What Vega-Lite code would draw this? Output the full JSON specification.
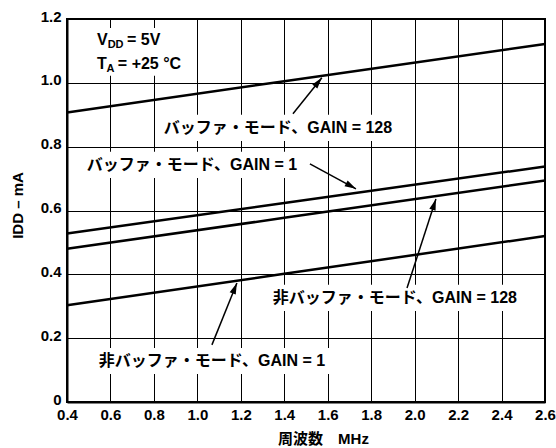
{
  "$schema": "https://vega.github.io/schema/vega-lite/v6.json",
  "width": 478,
  "height": 383,
  "autosize": {"type": "none"},
  "padding": {"left": 67, "top": 19, "right": 11, "bottom": 46},
  "background": "white",
  "config": {
    "view": {"stroke": "black", "strokeWidth": 2},
    "axis": {
      "gridColor": "black", "gridOpacity": 1, "gridWidth": 1,
      "domainColor": "black", "domainWidth": 2,
      "ticks": false,
      "labelColor": "black", "labelFont": "Liberation Sans", "labelFontSize": 15, "labelFontWeight": "bold",
      "titleColor": "black", "titleFont": "Liberation Sans, Noto Sans CJK JP", "titleFontSize": 15, "titleFontWeight": "bold",
      "labelFlush": false, "labelOverlap": false
    }
  },
  "datasets": {
    "lines": [
      {"series": "buf128", "f": 0.4, "i": 0.907}, {"series": "buf128", "f": 1.4, "i": 1.005}, {"series": "buf128", "f": 2.6, "i": 1.122},
      {"series": "buf1", "f": 0.4, "i": 0.528}, {"series": "buf1", "f": 1.4, "i": 0.6235}, {"series": "buf1", "f": 2.6, "i": 0.738},
      {"series": "nb128", "f": 0.4, "i": 0.48}, {"series": "nb128", "f": 1.4, "i": 0.577}, {"series": "nb128", "f": 2.6, "i": 0.694},
      {"series": "nb1", "f": 0.4, "i": 0.303}, {"series": "nb1", "f": 1.4, "i": 0.4016}, {"series": "nb1", "f": 2.6, "i": 0.52}
    ],
    "boxes": [
      {"f": 0.825, "f2": 1.914, "i": 0.818, "i2": 0.9},
      {"f": 0.478, "f2": 1.477, "i": 0.702, "i2": 0.784},
      {"f": 1.33, "f2": 2.489, "i": 0.285, "i2": 0.367},
      {"f": 0.533, "f2": 1.606, "i": 0.088, "i2": 0.169},
      {"f": 0.52, "f2": 0.957, "i": 1.022, "i2": 1.172}
    ],
    "labels": [
      {"text": "バッファ・モード、GAIN = 128", "f": 1.371, "i": 0.859},
      {"text": "バッファ・モード、GAIN = 1", "f": 0.975, "i": 0.743},
      {"text": "非バッファ・モード、GAIN = 128", "f": 1.909, "i": 0.326},
      {"text": "非バッファ・モード、GAIN = 1", "f": 1.067, "i": 0.1285}
    ],
    "arrows": [
      {"f": 1.44, "i": 0.903, "f2": 1.573, "i2": 1.016, "angle": 38.9},
      {"f": 1.518, "i": 0.746, "f2": 1.73, "i2": 0.668, "angle": 118.5},
      {"f": 1.965, "i": 0.357, "f2": 2.098, "i2": 0.636, "angle": 18},
      {"f": 1.067, "i": 0.179, "f2": 1.182, "i2": 0.373, "angle": 22}
    ],
    "cond": [
      {"t": "V", "f": 0.538, "i": 1.135, "k": "big"},
      {"t": "DD", "f": 0.587, "i": 1.135, "k": "sub"},
      {"t": "= 5V", "f": 0.676, "i": 1.135, "k": "big"},
      {"t": "T", "f": 0.538, "i": 1.06, "k": "big"},
      {"t": "A", "f": 0.582, "i": 1.06, "k": "sub"},
      {"t": "= +25 °C", "f": 0.634, "i": 1.06, "k": "big"}
    ]
  },
  "layer": [
    {
      "data": {"name": "lines"},
      "mark": {"type": "line", "color": "black", "strokeWidth": 2.5},
      "encoding": {
        "x": {
          "field": "f", "type": "quantitative",
          "scale": {"domain": [0.4, 2.6], "nice": false, "zero": false},
          "axis": {
            "values": [0.4, 0.6, 0.8, 1.0, 1.2, 1.4, 1.6, 1.8, 2.0, 2.2, 2.4, 2.6],
            "format": ".1f", "grid": true, "title": "周波数　MHz",
            "labelPadding": 5,
            "titleX": 256, "titleY": 36, "titleBaseline": "middle", "titleAlign": "center"
          }
        },
        "y": {
          "field": "i", "type": "quantitative",
          "scale": {"domain": [0, 1.2], "nice": false, "zero": false},
          "axis": {
            "values": [0, 0.2, 0.4, 0.6, 0.8, 1.0, 1.2],
            "labelExpr": "datum.value == 0 ? '0' : format(datum.value, '.1f')",
            "grid": true, "title": "IDD – mA", "labelPadding": 6, "labelOffset": -3,
            "titleX": -50, "titleY": 186, "titleBaseline": "middle", "titleAlign": "center", "titleAngle": 270
          }
        },
        "detail": {"field": "series", "type": "nominal"}
      }
    },
    {
      "data": {"name": "boxes"},
      "mark": {"type": "rect", "fill": "white", "strokeWidth": 0},
      "encoding": {
        "x": {"field": "f", "type": "quantitative"},
        "x2": {"field": "f2"},
        "y": {"field": "i", "type": "quantitative"},
        "y2": {"field": "i2"}
      }
    },
    {
      "data": {"name": "arrows"},
      "mark": {"type": "rule", "color": "black", "strokeWidth": 1.5},
      "encoding": {
        "x": {"field": "f", "type": "quantitative"},
        "x2": {"field": "f2"},
        "y": {"field": "i", "type": "quantitative"},
        "y2": {"field": "i2"}
      }
    },
    {
      "data": {"name": "arrows"},
      "mark": {"type": "point", "shape": "M0,0L-0.38,1.3L0.38,1.3Z", "filled": true, "color": "black", "opacity": 1, "size": 300, "strokeWidth": 0},
      "encoding": {
        "x": {"field": "f2", "type": "quantitative"},
        "y": {"field": "i2", "type": "quantitative"},
        "angle": {"field": "angle", "type": "quantitative", "scale": null}
      }
    },
    {
      "data": {"name": "labels"},
      "mark": {"type": "text", "font": "Liberation Sans, Noto Sans CJK JP", "fontSize": 16, "fontWeight": "bold", "color": "black", "align": "center", "baseline": "middle"},
      "encoding": {
        "x": {"field": "f", "type": "quantitative"},
        "y": {"field": "i", "type": "quantitative"},
        "text": {"field": "text"}
      }
    },
    {
      "data": {"name": "cond"},
      "transform": [{"filter": "datum.k == 'big'"}],
      "mark": {"type": "text", "font": "Liberation Sans", "fontSize": 16, "fontWeight": "bold", "color": "black", "align": "left", "baseline": "middle"},
      "encoding": {
        "x": {"field": "f", "type": "quantitative"},
        "y": {"field": "i", "type": "quantitative"},
        "text": {"field": "t"}
      }
    },
    {
      "data": {"name": "cond"},
      "transform": [{"filter": "datum.k == 'sub'"}],
      "mark": {"type": "text", "font": "Liberation Sans", "fontSize": 11, "fontWeight": "bold", "color": "black", "align": "left", "baseline": "middle", "dy": 5},
      "encoding": {
        "x": {"field": "f", "type": "quantitative"},
        "y": {"field": "i", "type": "quantitative"},
        "text": {"field": "t"}
      }
    }
  ]
}
